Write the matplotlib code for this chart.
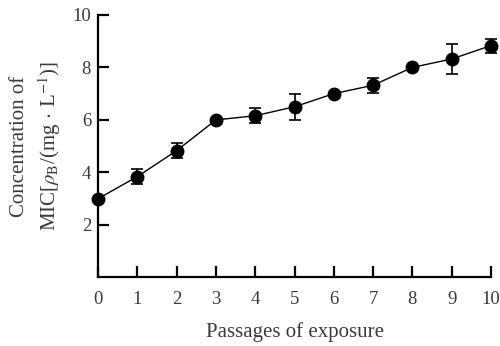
import matplotlib
matplotlib.use('Agg')
import matplotlib.pyplot as plt

passages = [0, 1, 2, 3, 4, 5, 6, 7, 8, 9, 10]
mic = [3.0, 3.84, 4.83, 6.0, 6.16, 6.5, 7.0, 7.32, 8.0, 8.32, 8.83]
err = [0, 0.28, 0.28, 0, 0.28, 0.5, 0, 0.28, 0, 0.57, 0.27]
y_ticks = [2, 4, 6, 8, 10]

plt.rcParams['font.family'] = ['Liberation Serif', 'DejaVu Serif']
plt.rcParams['mathtext.fontset'] = 'stix'

fig = plt.figure(figsize=(5, 3.46), dpi=100)
ax = fig.add_axes([0.196, 0.198, 0.786, 0.759])

ax.errorbar(passages, mic, yerr=err, color='black', linewidth=1.0,
            marker='o', markersize=9, capsize=4, elinewidth=1.2,
            capthick=1.2, clip_on=False, zorder=3)

ax.set_xlim(0, 10)
ax.set_ylim(0, 10)
ax.set_xticks(passages)
ax.set_yticks(y_ticks)

for s in ['top', 'right']:
    ax.spines[s].set_visible(False)
for s in ['left', 'bottom']:
    ax.spines[s].set_linewidth(1.6)

ax.tick_params(direction='in', length=8, width=1.6, labelsize=13.5,
               labelcolor='#3a3a3a')
ax.tick_params(axis='x', pad=10)
ax.tick_params(axis='y', pad=5)

ax.set_xlabel('Passages of exposure', fontsize=15, color='#3a3a3a', labelpad=10)
ax.set_ylabel('Concentration of\n' + r'MIC[$\rho_{\rm B}$/(mg$\,\cdot\,$L$^{-1}$)]',
              fontsize=15, color='#3a3a3a', labelpad=7, linespacing=1.35)

fig.savefig('out.png', dpi=100)
